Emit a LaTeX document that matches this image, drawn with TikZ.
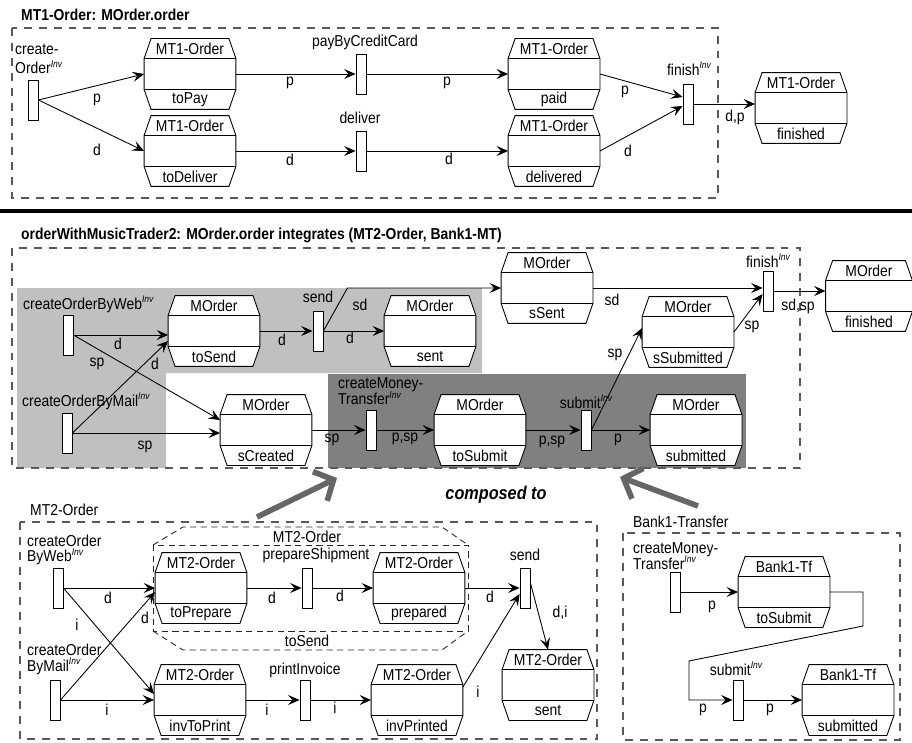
\documentclass[tikz,border=0pt]{standalone}
\usepackage{fontspec}
\setmainfont{Liberation Sans}[FakeStretch=0.88]
\usetikzlibrary{arrows.meta, calc}

\definecolor{lightshade}{RGB}{192,192,192}
\definecolor{darkshade}{RGB}{128,128,128}
\definecolor{composegray}{RGB}{102,102,102}
\newcommand{\invsup}{\smash{\raisebox{0.8ex}{\fontsize{5.5}{6}\selectfont\itshape Inv}}}

\begin{document}
\begin{tikzpicture}[
		x=0.02cm, y=-0.02cm,
		line width=0.5pt,
		state/.style={
			rectangle,
			draw,
			fill=white,
			inner sep=0pt,
			minimum width=1.82cm,
			minimum height=0.6cm
		},
		trans/.style={
			rectangle,
			draw,
			fill=white,
			inner sep=0pt,
			minimum width=0.2cm,
			minimum height=0.8cm
		},
		txt/.style={
			font=\fontsize{9}{11}\selectfont,
			inner sep=1pt
		},
		title/.style={
			font=\fontsize{9}{11}\selectfont\bfseries,
			inner sep=1pt
		},
		frame/.style={
			draw=black!65,
			line width=0.6pt,
			dash pattern=on 4.5pt off 4pt
		},
		innerframe/.style={
			draw=black!85,
			dash pattern=on 3.5pt off 2.5pt
		},
		arrow/.style={
			-{Stealth[length=2.3mm, width=2mm, inset=0.9mm]}
		},
		bigarrow/.style={
			-{Straight Barb[length=3mm, width=6.5mm]},
			line width=3.2pt,
			draw=composegray
		}
		]
		
		\useasboundingbox (0,0) rectangle (912,743);
		
		% shaded regions of the composed net
		\fill[lightshade] (17,288) -- (482,288) -- (482,373) -- (166,373) -- (166,468) -- (17,468) -- cycle;
		\fill[darkshade] (328,374) rectangle (746,468);
		
		% frames
		\draw[frame] (12,28) rectangle (718,198);
		\draw[line width=2.3pt] (0,211) -- (912,211);
		\draw[frame] (12,248) rectangle (800,468);
		\draw[frame] (20,522) rectangle (597,739);
		\draw[frame] (623,533) rectangle (900,740);
		\draw[innerframe] (153,545) rectangle (468,631);
		\draw[innerframe] (153,545) -- (183,527) -- (442,527) -- (468,545);
		\draw[innerframe] (153,631) -- (183,650) -- (442,650) -- (468,631);
		
		\node[title, anchor=west] (title1) at (19,15) {MT1-Order: MOrder.order};
		\node[title, anchor=west] (title2) at (19,235) {orderWithMusicTrader2: MOrder.order integrates (MT2-Order, Bank1-MT)};
		\node[txt, font=\fontsize{10.5}{12}\selectfont\bfseries\itshape] (composed) at (496,495) {composed to};
		\node[txt, anchor=west] (mt2-l) at (28,510) {MT2-Order};
		\node[txt, anchor=west] (bank-l) at (631,522) {Bank1-Transfer};
		\node[txt] (inner-c) at (307,537) {MT2-Order};
		\node[txt] (inner-s) at (307,641) {toSend};
		
		% MT1-Order
		\node[state] (oPay) at (190,74) {};
		\node[state] (oDeliver) at (190,151) {};
		\node[state] (oPaid) at (554,74) {};
		\node[state] (oDelivered) at (554,151) {};
		\node[state] (oFinished) at (801,108) {};
		
		\node[trans] (tCreate) at (33,100) {};
		\node[trans] (tPay) at (361,74) {};
		\node[trans] (tDeliver) at (361,151) {};
		\node[trans] (tFinish) at (688,104) {};
		
		\node[txt, anchor=west, align=left] (tCreate-l) at (13,59) {create-\\Order\invsup};
		\node[txt] (tPay-l) at (365,42) {payByCreditCard};
		\node[txt] (tDeliver-l) at (360,118) {deliver};
		\node[txt] (tFinish-l) at (689,70) {finish\invsup};
		
		% orderWithMusicTrader2
		\node[state] (mToSend) at (214,331) {};
		\node[state] (mSent) at (430,331) {};
		\node[state] (mCreated) at (266,430) {};
		\node[state] (mToSubmit) at (480,430) {};
		\node[state] (mSubmitted) at (696,430) {};
		\node[state] (mSSent) at (547,288) {};
		\node[state] (mSSubmitted) at (688,332) {};
		\node[state, minimum width=1.72cm] (mFinished) at (869,296) {};
		
		\node[trans] (wWeb) at (68,335) {};
		\node[trans] (wMail) at (67,433) {};
		\node[trans] (wSend) at (318,331) {};
		\node[trans] (wTransfer) at (371,430) {};
		\node[trans] (wSubmit) at (586,430) {};
		\node[trans] (wFinish) at (768,291) {};
		
		\node[txt, anchor=west] (wWeb-l) at (21,305) {createOrderByWeb\invsup};
		\node[txt, anchor=west] (wMail-l) at (20,402) {createOrderByMail\invsup};
		\node[txt] (wSend-l) at (318,297) {send};
		\node[txt, anchor=west, align=left] (wTransfer-l) at (336,391) {createMoney-\\[-1.5pt]Transfer\invsup};
		\node[txt] (wSubmit-l) at (586,403) {submit\invsup};
		\node[txt] (wFinish-l) at (768,262) {finish\invsup};
		
		% MT2-Order
		\node[state] (tPrepare) at (201,588) {};
		\node[state] (tPrepared) at (419,588) {};
		\node[state] (tToPrint) at (200,700) {};
		\node[state] (tPrinted) at (417,700) {};
		\node[state] (tSent) at (548,685) {};
		
		\node[trans] (uWeb) at (58,588) {};
		\node[trans] (uMail) at (55,700) {};
		\node[trans] (uShip) at (307,588) {};
		\node[trans] (uPrint) at (305,700) {};
		\node[trans] (uSend) at (525,588) {};
		
		\node[txt, anchor=west, align=left] (uWeb-l) at (25,550) {createOrder\\[-2pt]ByWeb\invsup};
		\node[txt, anchor=west, align=left] (uMail-l) at (25,659) {createOrder\\[-2pt]ByMail\invsup};
		\node[txt] (uShip-l) at (316,555) {prepareShipment};
		\node[txt] (uPrint-l) at (305,670) {printInvoice};
		\node[txt] (uSend-l) at (525,555) {send};
		
		% Bank1-Transfer
		\node[state] (bToSubmit) at (784,592) {};
		\node[state] (bSubmitted) at (848,700) {};
		
		\node[trans] (vTransfer) at (675,592) {};
		\node[trans] (vSubmit) at (738,700) {};
		
		\node[txt, anchor=west, align=left] (vTransfer-l) at (631,556) {createMoney-\\[-2pt]Transfer\invsup};
		\node[txt] (vSubmit-l) at (736,670) {submit\invsup};
		
		% class and state bands of every object node
		\foreach \n/\c/\s in {
			oPay/MT1-Order/toPay, oDeliver/MT1-Order/toDeliver,
			oPaid/MT1-Order/paid, oDelivered/MT1-Order/delivered,
			oFinished/MT1-Order/finished,
			mToSend/MOrder/toSend, mSent/MOrder/sent, mCreated/MOrder/sCreated,
			mToSubmit/MOrder/toSubmit, mSubmitted/MOrder/submitted,
			mSSent/MOrder/sSent, mSSubmitted/MOrder/sSubmitted,
			mFinished/MOrder/finished,
			tPrepare/MT2-Order/toPrepare, tPrepared/MT2-Order/prepared,
			tToPrint/MT2-Order/invToPrint, tPrinted/MT2-Order/invPrinted,
			tSent/MT2-Order/sent,
			bToSubmit/Bank1-Tf/toSubmit, bSubmitted/Bank1-Tf/submitted} {
			\filldraw[fill=white] (\n.north west) -- ++(7,-20) -- ($(\n.north east)+(-7,-20)$) -- (\n.north east)
			-- (\n.south east) -- ++(-7,20) -- ($(\n.south west)+(7,20)$) -- (\n.south west) -- cycle;
			\draw (\n.north west) -- (\n.north east) (\n.south west) -- (\n.south east);
			\node[txt] (\n-c) at ($(\n.north)+(0,-10)$) {\c};
			\node[txt] (\n-s) at ($(\n.south)+(0,10)$) {\s};
		}
		
		% arcs MT1-Order
		\draw[arrow] (tCreate.east) -- (oPay.west) node[txt] at (97,100) {p};
		\draw[arrow] (tCreate.east) -- (oDeliver.west) node[txt] at (97,150) {d};
		\draw[arrow] (oPay) -- (tPay) node[txt] at (290,83) {p};
		\draw[arrow] (tPay) -- (oPaid) node[txt] at (447,83) {p};
		\draw[arrow] (oDeliver) -- (tDeliver) node[txt] at (290,160) {d};
		\draw[arrow] (tDeliver) -- (oDelivered) node[txt] at (449,159) {d};
		\draw[arrow] (oPaid.east) -- ($(tFinish.west)+(0,-7)$) node[txt] at (625,92) {p};
		\draw[arrow] (oDelivered.east) -- ($(tFinish.west)+(0,2)$) node[txt] at (628,151) {d};
		\draw[arrow] (tFinish.east) -- (tFinish.east -| oFinished.west) node[txt] at (735,117) {d,p};
		
		% arcs orderWithMusicTrader2
		\draw[arrow] (wWeb.east) -- (wWeb.east -| mToSend.west) node[txt] at (118,344) {d};
		\draw[arrow] (wWeb.east) -- ($(mCreated.west)+(0,-10)$) node[txt] at (97,364) {sp};
		\draw[arrow] (wMail.east) -- ($(mToSend.west)+(0,10)$) node[txt] at (155,364) {d};
		\draw[arrow] (wMail.east) -- (wMail.east -| mCreated.west) node[txt] at (145,447) {sp};
		\draw[arrow] (mToSend) -- (wSend) node[txt] at (282,340) {d};
		\draw[arrow] (wSend) -- (mSent) node[txt] at (350,338) {d};
		\draw[arrow] (wSend.east) -- ++(24,-43) -- (mSSent.west) node[txt] at (360,305) {sd};
		\draw[arrow] (mCreated) -- (wTransfer) node[txt] at (332,440) {sp};
		\draw[arrow] (wTransfer) -- (mToSubmit) node[txt] at (405,439) {p,sp};
		\draw[arrow] (mToSubmit) -- (wSubmit) node[txt] at (552,442) {p,sp};
		\draw[arrow] (wSubmit) -- (mSubmitted) node[txt] at (618,440) {p};
		\draw[arrow] (wSubmit.east) -- ($(mSSubmitted.west)+(0,-4)$) node[txt] at (615,355) {sp};
		\draw[arrow] (mSSent.east) -- (mSSent.east -| wFinish.west) node[txt] at (612,300) {sd};
		\draw[arrow] (mSSubmitted.east) -- ($(wFinish.west)+(0,3)$) node[txt] at (752,327) {sp};
		\draw[arrow] (wFinish.east) -- (wFinish.east -| mFinished.west) node[txt] at (798,306) {sd,sp};
		
		% arcs MT2-Order
		\draw[arrow] (uWeb) -- (tPrepare) node[txt] at (108,598) {d};
		\draw[arrow] (uWeb.east) -- ($(tToPrint.west)+(0,-6)$) node[txt] at (77,625) {i};
		\draw[arrow] (uMail.east) -- ($(tPrepare.west)+(0,4)$) node[txt] at (145,618) {d};
		\draw[arrow] (uMail) -- (tToPrint) node[txt] at (107,710) {i};
		\draw[arrow] (tPrepare) -- (uShip) node[txt] at (272,598) {d};
		\draw[arrow] (uShip) -- (tPrepared) node[txt] at (340,596) {d};
		\draw[arrow] (tPrepared) -- (uSend) node[txt] at (490,597) {d};
		\draw[arrow] (tToPrint) -- (uPrint) node[txt] at (267,710) {i};
		\draw[arrow] (uPrint) -- (tPrinted) node[txt] at (335,708) {i};
		\draw[arrow] ($(tPrinted.east)+(0,-13)$) -- ($(uSend.west)+(0,6)$) node[txt] at (478,692) {i};
		\draw[arrow] ($(uSend.east)+(0,-5)$) -- ($(tSent.north)+(0,-20)$) node[txt] at (560,613) {d,i};
		
		% arcs Bank1-Transfer
		\draw[arrow] (vTransfer) -- (bToSubmit) node[txt] at (712,607) {p};
		\draw[arrow] (bToSubmit.east) -| ++(33,34) -- ++(-174,35) |- (vSubmit.west) node[txt] at (703,710) {p};
		\draw[arrow] (vSubmit) -- (bSubmitted) node[txt] at (770,710) {p};
		
		% composition arrows
		\coordinate (mt2Tail) at (257,517);
		\coordinate (mt2Head) at (337,478);
		\coordinate (bankTail) at (698,506);
		\coordinate (bankHead) at (620,477);
		\draw[bigarrow] (mt2Tail) -- (mt2Head);
		\draw[bigarrow] (bankTail) -- (bankHead);
		
	\end{tikzpicture}
\end{document}
